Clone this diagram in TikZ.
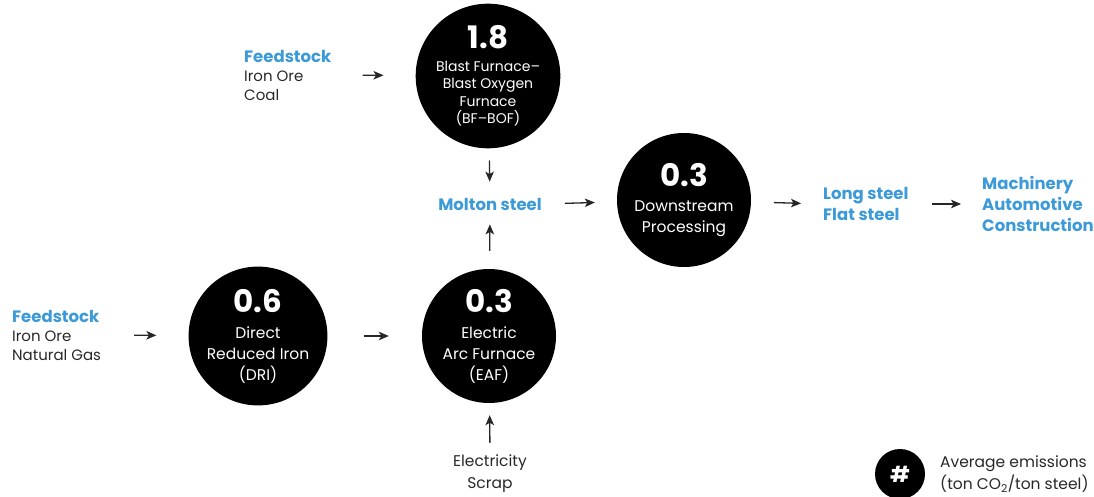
\documentclass[tikz,border=0pt]{standalone}
\usepackage{fontspec}
\setmainfont{Poppins}
\usetikzlibrary{arrows.meta}
\definecolor{blu}{RGB}{59,154,215}
\definecolor{txt}{RGB}{40,40,40}
\begin{document}
\begin{tikzpicture}[x=1pt,y=-1pt,
  proc/.style={circle,fill=black,minimum size=134pt,inner sep=0pt,text=white,align=center,font=\fontsize{14}{17.5}\selectfont},
  lbl/.style={inner sep=0pt,text=txt,font=\fontsize{15}{19}\selectfont},
  blbl/.style={inner sep=0pt,text=blu,font=\fontsize{16.5}{21}\selectfont\bfseries},
  arr/.style={-{Stealth[length=10pt,width=8.5pt,inset=2.5pt]},line width=1.3pt,draw=black!85}]
\useasboundingbox (0,0) rectangle (1094,497);
\newcommand{\bignum}[1]{{\fontsize{31}{32}\selectfont\bfseries #1}}
% circles
\node[proc] (bf) at (488,76) {\bignum{1.8}\\[5pt]Blast Furnace--\\Blast Oxygen\\Furnace\\(BF--BOF)};
\node[proc,font=\fontsize{15.5}{21}\selectfont] (dri) at (258,336) {\bignum{0.6}\\[5pt]Direct\\Reduced Iron\\(DRI)};
\node[proc,font=\fontsize{15.5}{21}\selectfont] (eaf) at (489,336) {\bignum{0.3}\\[5pt]Electric\\Arc Furnace\\(EAF)};
\node[proc,font=\fontsize{15.5}{21}\selectfont] (ds) at (684,200) {\bignum{0.3}\\[4pt]Downstream\\Processing};
% texts
\node[lbl,anchor=west,align=left] (feedA) at (244,75) {{\color{blu}\fontsize{16.5}{19}\selectfont\bfseries Feedstock}\\Iron Ore\\Coal};
\node[lbl,anchor=west,align=left] (feedB) at (12,335) {{\color{blu}\fontsize{16.5}{19}\selectfont\bfseries Feedstock}\\Iron Ore\\Natural Gas};
\node[blbl] (molt) at (490,204) {Molton steel};
\node[blbl,anchor=west,align=left] (steel) at (823,204) {Long steel\\Flat steel};
\node[blbl,anchor=west,align=left] (use) at (982,204) {Machinery\\Automotive\\Construction};
\node[lbl,align=center,font=\fontsize{15.5}{22}\selectfont] (elec) at (490,474) {Electricity\\Scrap};
% legend
\node[circle,fill=black,minimum size=50pt,inner sep=0pt,text=white,font=\fontsize{22}{24}\selectfont\bfseries] (leg) at (900,474) {\#};
\node[lbl,anchor=west,align=left,font=\fontsize{15.5}{22}\selectfont] (legt) at (940,474) {Average emissions\\(ton CO\textsubscript{2}/ton steel)};
% arrows
\draw[arr,shorten <=31pt,shorten >=32pt] (feedA.east) -- (bf);
\draw[arr,shorten <=33pt,shorten >=32pt] (feedB.east) -- (dri);
\draw[arr,shorten <=36pt,shorten >=33pt] (dri) -- (eaf);
\draw[arr,shorten <=12pt,shorten >=16pt] (bf) -- (molt.north);
\draw[arr,shorten <=18pt,shorten >=14pt] (eaf) -- (molt.south);
\draw[arr,shorten <=23pt,shorten >=22pt] (molt.east) -- (ds);
\draw[arr,shorten <=23pt,shorten >=22pt] (ds) -- (steel.west);
\draw[arr,shorten <=23pt,shorten >=21pt] (steel.east) -- (use.west);
\draw[arr,shorten <=12pt,shorten >=12pt] (elec.north) -- (eaf);
\end{tikzpicture}
\end{document}
